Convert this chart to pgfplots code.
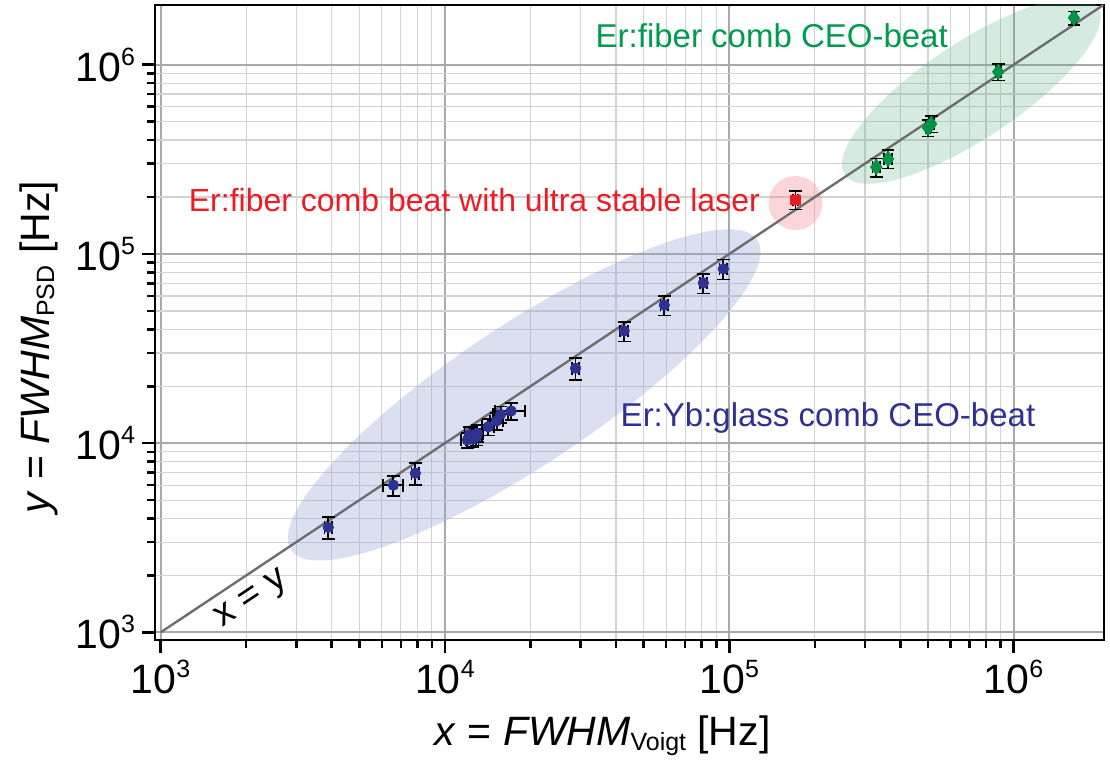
\documentclass[border=0pt]{standalone}
\usepackage{fontspec}
\setmainfont{Liberation Sans}
\usepackage{pgfplots}
\pgfplotsset{compat=1.18}
\definecolor{mblue}{RGB}{46,49,146}
\definecolor{mgreen}{RGB}{0,148,68}
\definecolor{mred}{RGB}{237,28,36}
\definecolor{tgreen}{RGB}{0,155,78}
\definecolor{eblue}{RGB}{150,165,210}
\definecolor{egreen}{RGB}{100,180,140}
\definecolor{ered}{RGB}{240,120,130}
\definecolor{majgrid}{RGB}{167,169,172}
\definecolor{mingrid}{RGB}{209,211,212}
\definecolor{diag}{RGB}{109,110,113}
\newcommand{\tp}[1]{10\raisebox{8pt}{\fontsize{12.5}{12.5}\selectfont #1}}
\newcommand{\sub}[1]{\raisebox{-2.5pt}{\fontsize{12.5}{12.5}\selectfont #1}}
\begin{document}
\begin{tikzpicture}
\begin{axis}[
  xmode=log, ymode=log,
  scale only axis, width=474.5pt, height=317.5pt,
  xmin=956, xmax=2.08e6, ymin=912, ymax=2.07e6,
  xtick={1e3,1e4,1e5,1e6}, ytick={1e3,1e4,1e5,1e6},
  xticklabels={\tp{3},\tp{4},\tp{5},\tp{6}},
  yticklabels={\tp{3},\tp{4},\tp{5},\tp{6}},
  grid=both,
  major grid style={majgrid, line width=1pt},
  minor grid style={mingrid, line width=0.6pt},
  axis line style={black, line width=1.35pt},
  tick align=outside, xtick pos=bottom, ytick pos=left,
  major tick length=6.5pt, minor tick length=4pt,
  every tick/.style={black, line width=1.3pt},
  tick label style={font=\fontsize{20.5}{24}\selectfont},
  label style={font=\fontsize{20.5}{24}\selectfont},
  xlabel={\textit{x} = \textit{FWHM}\sub{Voigt} [Hz]},
  ylabel={\textit{y} = \textit{FWHM}\sub{PSD} [Hz]},
  xlabel style={at={(axis description cs:0.4716,0)}, anchor=base, yshift=-53pt},
  ylabel style={at={(axis description cs:-0.1117,0.461)}, anchor=base},
  error bars/error bar style={black, line width=0.9pt},
  error bars/error mark options={rotate=90, black, mark size=3.2pt, line width=0.9pt},
]
% shaded regions
\fill[eblue, fill opacity=0.35, rotate around={33.6:(axis cs:1.9e4,1.8e4)}] (axis cs:1.9e4,1.8e4) ellipse [x radius=140pt, y radius=35pt];
\fill[egreen, fill opacity=0.27, rotate around={33.6:(axis cs:7.1e5,7.3e5)}] (axis cs:7.1e5,7.3e5) ellipse [x radius=76pt, y radius=24pt];
\fill[ered, fill opacity=0.3] (axis cs:1.71e5,1.86e5) circle [radius=13.5pt];
% x = y line
\addplot[diag, line width=1.2pt] coordinates {(1e3,1e3) (2.07e6,2.07e6)};
\node[rotate=33.6, inner sep=0pt, font=\fontsize{18.5}{20}\selectfont] at (axis cs:2.10e3,1.48e3) {x = y};
% Er:Yb:glass
\addplot[only marks, mark=*, mark size=2.6pt, mark options={fill=mblue, draw=mblue},
  error bars/.cd, x dir=both, x explicit relative, y dir=both, y explicit relative]
coordinates {
 (3890,3590) +- (0.03,0.13)
 (6590,6000) +- (0.08,0.12)
 (7870,6940) +- (0.03,0.13)
 (12000,10400) +- (0.05,0.09)
 (12500,10500) +- (0.05,0.09)
 (12200,11100) +- (0.04,0.10)
 (12900,10800) +- (0.05,0.10)
 (13000,11300) +- (0.05,0.10)
 (14200,12200) +- (0.05,0.10)
 (15200,13100) +- (0.05,0.10)
 (15700,14200) +- (0.06,0.10)
 (17100,14800) +- (0.12,0.10)
 (28800,24900) +- (0.03,0.13)
 (42700,39200) +- (0.03,0.12)
 (59100,53700) +- (0.03,0.12)
 (81100,70300) +- (0.03,0.12)
 (95300,83400) +- (0.03,0.12)
};
% ultra stable laser
\addplot[only marks, mark=square*, mark size=2.4pt, mark options={fill=mred, draw=mred},
  error bars/.cd, x dir=both, x explicit relative, y dir=both, y explicit relative]
coordinates {
 (171000,193000) +- (0.02,0.11)
};
% Er:fiber CEO
\addplot[only marks, mark=diamond*, mark size=3.8pt, mark options={fill=mgreen, draw=mgreen},
  error bars/.cd, x dir=both, x explicit relative, y dir=both, y explicit relative]
coordinates {
 (329000,288000) +- (0.03,0.11)
 (362000,318000) +- (0.03,0.11)
 (500000,464000) +- (0.02,0.10)
 (513000,487000) +- (0.02,0.10)
 (883000,918000) +- (0.02,0.10)
 (1630000,1770000) +- (0.02,0.08)
};
\node[anchor=base east, inner sep=0pt, text=tgreen, font=\fontsize{16.5}{20}\selectfont] at (axis cs:5.89e5,1.23e6) {Er:fiber comb CEO-beat};
\node[anchor=base east, inner sep=0pt, text=mred, font=\fontsize{16}{20}\selectfont] at (axis cs:1.285e5,1.67e5) {Er:fiber comb beat with ultra stable laser};
\node[anchor=base west, inner sep=0pt, text=mblue, font=\fontsize{16.5}{20}\selectfont] at (axis cs:4.14e4,1.22e4) {Er:Yb:glass comb CEO-beat};
\end{axis}
\pgfresetboundingbox
\path[use as bounding box] ([xshift=-77.5pt,yshift=-64.5pt]current axis.south west) rectangle ([xshift=3pt,yshift=2.5pt]current axis.north east);
\end{tikzpicture}
\end{document}
